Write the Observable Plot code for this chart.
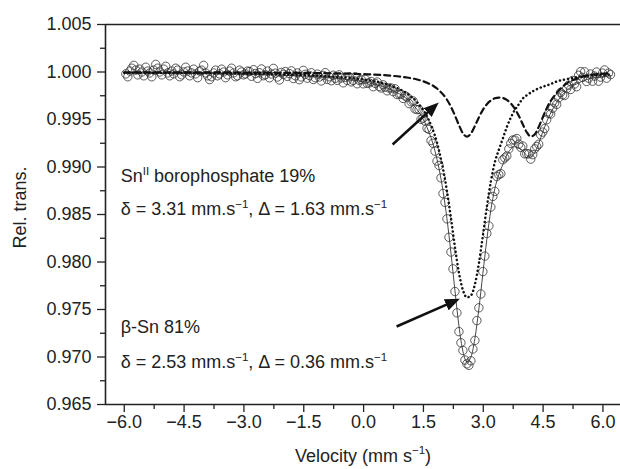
<!DOCTYPE html>
<html><head><meta charset="utf-8">
<script src="https://cdn.jsdelivr.net/npm/d3@7"></script>
<script src="https://cdn.jsdelivr.net/npm/@observablehq/plot@0.6"></script>
<style>html,body{margin:0;padding:0;background:#fff;}</style>
</head><body><div id="chart"></div>
<script>
// Measured spectrum (velocity in mm/s, relative transmission)
const velocity = [
-5.96,-5.91,-5.86,-5.81,-5.76,-5.71,-5.66,-5.61,-5.56,-5.51,
-5.46,-5.41,-5.36,-5.31,-5.26,-5.21,-5.16,-5.11,-5.06,-5.01,
-4.96,-4.91,-4.86,-4.81,-4.76,-4.71,-4.66,-4.61,-4.56,-4.51,
-4.46,-4.41,-4.36,-4.31,-4.26,-4.21,-4.16,-4.11,-4.06,-4.01,
-3.96,-3.91,-3.86,-3.81,-3.76,-3.71,-3.66,-3.61,-3.56,-3.51,
-3.46,-3.41,-3.36,-3.31,-3.26,-3.21,-3.16,-3.11,-3.06,-3.01,
-2.96,-2.91,-2.86,-2.81,-2.76,-2.71,-2.66,-2.61,-2.56,-2.51,
-2.46,-2.41,-2.36,-2.31,-2.26,-2.21,-2.16,-2.11,-2.06,-2.01,
-1.96,-1.91,-1.86,-1.81,-1.76,-1.71,-1.66,-1.61,-1.56,-1.51,
-1.46,-1.41,-1.36,-1.31,-1.26,-1.21,-1.16,-1.11,-1.06,-1.01,
-0.96,-0.91,-0.86,-0.81,-0.76,-0.71,-0.66,-0.61,-0.56,-0.51,
-0.46,-0.41,-0.36,-0.31,-0.26,-0.21,-0.16,-0.11,-0.06,-0.01,
0.04,0.09,0.14,0.19,0.24,0.29,0.34,0.39,0.44,0.49,
0.54,0.59,0.64,0.69,0.74,0.79,0.84,0.89,0.94,0.99,
1.04,1.09,1.14,1.19,1.24,1.29,1.34,1.39,1.44,1.49,
1.54,1.59,1.64,1.69,1.74,1.79,1.84,1.89,1.94,1.99,
2.04,2.09,2.14,2.19,2.24,2.29,2.34,2.39,2.44,2.49,
2.54,2.59,2.64,2.69,2.74,2.79,2.84,2.89,2.94,2.99,
3.04,3.09,3.14,3.19,3.24,3.29,3.34,3.39,3.44,3.49,
3.54,3.59,3.64,3.69,3.74,3.79,3.84,3.89,3.94,3.99,
4.04,4.09,4.14,4.19,4.24,4.29,4.34,4.39,4.44,4.49,
4.54,4.59,4.64,4.69,4.74,4.79,4.84,4.89,4.94,4.99,
5.04,5.09,5.14,5.19,5.24,5.29,5.34,5.39,5.44,5.49,
5.54,5.59,5.64,5.69,5.74,5.79,5.84,5.89,5.94,5.99,
6.04,6.09,6.14,6.19];
const transmission = [
0.9998,0.9995,1.0001,1.0004,1.0007,1.0002,0.9997,1.0003,1.0000,0.9996,
1.0005,1.0001,0.9999,0.9995,1.0002,1.0008,1.0004,1.0000,0.9997,1.0003,
1.0006,0.9999,0.9996,1.0001,0.9998,1.0004,1.0002,0.9995,0.9997,1.0000,
1.0005,1.0001,0.9996,0.9999,1.0003,0.9998,0.9994,1.0001,1.0002,1.0007,
0.9999,0.9996,0.9992,0.9995,0.9999,1.0002,0.9996,0.9998,1.0003,1.0000,
0.9994,0.9997,1.0001,1.0004,0.9999,0.9995,0.9996,1.0002,1.0000,0.9997,
0.9998,1.0001,
1.00005,0.99955,1.00024,0.99984,0.99933,0.99992,1.00032,0.99961,0.99971,1.00010,
0.99939,0.99979,1.00038,0.99988,0.99947,0.99916,0.99996,0.99975,1.00005,0.99954,
0.99983,1.00012,0.99931,0.99960,0.99990,0.99919,0.99948,1.00017,0.99976,0.99935,
0.99964,0.99992,0.99921,0.99940,0.99978,0.99947,0.99906,0.99964,0.99993,0.99922,
0.99950,0.99908,0.99966,0.99934,0.99912,0.99970,0.99938,0.99886,0.99944,0.99912,
0.99949,0.99896,0.99912,0.99949,0.99876,0.99913,0.99920,0.99876,0.99923,0.99880,
0.99885,0.99900,0.99845,0.99880,0.99895,0.99848,0.99832,0.99865,0.99839,0.99802,
0.99832,0.99832,0.99793,0.99823,0.99763,0.99769,0.99766,0.99722,0.99749,
0.99735,0.99667,0.99687,0.99695,0.99611,0.99604,0.99605,0.99502,0.99515,0.99483,
0.99408,0.99396,0.99278,0.99250,0.99167,0.99062,0.99016,0.98885,0.98721,0.98628,
0.98454,0.98260,0.98105,0.97928,0.97689,0.97465,0.97267,0.97150,0.97069,0.96968,
0.96928,0.96912,0.96960,0.97084,0.97175,0.97383,0.97518,0.97663,0.97899,0.98062,
0.98300,0.98380,0.98578,0.98690,0.98743,0.98900,0.98920,0.98930,0.99076,0.99096,
0.99116,
0.99190,0.99249,0.99284,0.99284,0.99300,0.99240,0.99207,0.99221,0.99138,0.99141,
0.99138,0.99083,0.99130,0.99191,0.99216,0.99239,0.99338,0.99367,0.99404,0.99497,
0.99564,0.99558,0.99618,0.99675,0.99659,0.99728,0.99785,0.99760,0.99753,0.99825,
0.99861,0.99816,0.99911,0.99874,0.99845,0.99965,1.00004,0.99943,1.00002,0.99900,
0.99935,0.99979,0.99903,0.99957,1.00000,0.99903,0.99946,0.99989,1.00022,0.99935,
0.99989,0.99972];

// Total fit (thin solid line)
const fitVelocity = [-6.0,-4.91,-3.91,-2.91,-1.91,-1.41,-0.91,-0.41,0.09,0.34,0.59,0.84,
1.09,1.19,1.29,1.39,1.49,1.59,1.69,1.79,1.89,1.99,
2.09,2.19,2.29,2.39,2.49,2.59,2.69,2.79,2.89,2.99,
3.09,3.19,3.29,3.39,3.49,3.59,3.69,3.79,3.89,3.99,
4.09,4.19,4.29,4.39,4.49,4.59,4.69,
4.84,5.09,5.34,5.59,6.09,6.2];
const fitValue = [0.99989,0.99987,0.99983,0.99976,0.99964,0.99955,0.99942,0.99922,0.99890,0.99865,0.99832,0.99783,
0.99715,0.99677,0.99631,0.99575,0.99505,0.99418,0.99308,0.99167,0.98986,0.98751,
0.98454,0.98095,0.97699,0.97327,0.97059,0.96948,0.96999,0.97195,0.97508,0.97879,
0.98240,0.98548,0.98773,0.98920,0.99026,0.99126,0.99189,0.99214,0.99200,0.99171,
0.99121,0.99103,0.99151,0.99249,0.99367,0.99477,0.99568,
0.99679,0.99805,0.99875,0.99920,0.99955,0.99963];

// Sn(II) borophosphate doublet (dashed)
const snIIVelocity = [-6.0,-3.91,-1.91,-0.91,0.09,0.59,1.09,1.34,1.59,1.84,
2.09,2.19,2.29,2.39,2.49,2.59,2.69,2.79,2.89,2.99,
3.09,3.19,3.29,3.39,3.49,3.59,3.69,3.79,3.89,3.99,
4.09,4.19,4.29,4.39,4.49,4.59,4.69,
4.84,5.09,5.34,5.59,6.09,6.2];
const snIIValue = [0.99997,0.99996,0.99991,0.99987,0.99976,0.99964,0.99942,0.99921,0.99887,0.99826,
0.99708,0.99634,0.99542,0.99441,0.99355,0.99320,0.99352,0.99432,0.99522,0.99601,
0.99660,0.99700,0.99723,0.99731,0.99726,0.99706,0.99669,0.99614,0.99540,0.99450,
0.99366,0.99321,0.99343,0.99422,0.99522,0.99617,0.99695,
0.99779,0.99880,0.99930,0.99960,0.99985,0.99988];

// beta-Sn doublet (dotted)
const betaSnVelocity = [-6.0,-4.91,-3.91,-2.91,-1.91,-1.41,-0.91,-0.41,0.09,0.59,
1.09,1.34,1.59,1.84,2.09,2.19,2.29,2.39,2.49,2.59,
2.69,2.79,2.89,2.99,3.09,3.19,3.29,3.39,3.49,3.59,
3.69,3.79,3.89,3.99,4.09,4.29,4.49,4.69,4.84,5.09,
5.34,5.59,6.09,6.2];
const betaSnValue = [0.99992,0.99990,0.99987,0.99982,0.99973,0.99966,0.99955,0.99940,0.99914,0.99868,
0.99773,0.99683,0.99531,0.99256,0.98746,0.98461,0.98157,0.97886,0.97704,0.97628,
0.97647,0.97763,0.97986,0.98278,0.98580,0.98848,0.99050,0.99180,0.99300,0.99420,
0.99520,0.99600,0.99660,0.99721,0.99755,0.99808,0.99845,0.99873,0.99900,0.99925,
0.99945,0.99960,0.99970,0.99975];

// Axes
const xDomain = [-6.47, 6.44];
const yDomain = [0.965, 1.005];
const xTicks = [-6, -4.5, -3, -1.5, 0, 1.5, 3, 4.5, 6];
const xMinorTicks = [-5.25, -3.75, -2.25, -0.75, 0.75, 2.25, 3.75, 5.25];
const yTicks = [0.965, 0.970, 0.975, 0.980, 0.985, 0.990, 0.995, 1.000, 1.005];
const yMinorTicks = [0.9675, 0.9725, 0.9775, 0.9825, 0.9875, 0.9925, 0.9975, 1.0025];
const xLabel = "Velocity (mm s^{−1})";
const yLabel = "Rel. trans.";

// Annotations (data coordinates)
const noteText = ["Sn^{II} borophosphate 19%", "δ = 3.31 mm.s^{−1}, Δ = 1.63 mm.s^{−1}", "β-Sn 81%", "δ = 2.53 mm.s^{−1}, Δ = 0.36 mm.s^{−1}"];
const noteX = [-6.09, -6.09, -6.09, -6.09];
const noteY = [0.98900, 0.98555, 0.97315, 0.96945];
const arrowX1 = [0.727, 0.827];
const arrowY1 = [0.99237, 0.97321];
const arrowX2 = [1.717, 2.208];
const arrowY2 = [0.99616, 0.97574];

const points = velocity.map((v, i) => ({v, t: transmission[i]}));
const fit = fitVelocity.map((v, i) => ({v, t: fitValue[i]}));
const snII = snIIVelocity.map((v, i) => ({v, t: snIIValue[i]}));
const betaSn = betaSnVelocity.map((v, i) => ({v, t: betaSnValue[i]}));
const notes = noteText.map((text, i) => ({text, x: noteX[i], y: noteY[i]}));
const arrows = arrowX1.map((x1, i) => ({x1, y1: arrowY1[i], x2: arrowX2[i], y2: arrowY2[i]}));

const FS = 18;
const ink = "#222";
const chart = Plot.plot({
  width: 620, height: 469,
  marginLeft: 105, marginRight: 0, marginTop: 24, marginBottom: 65,
  style: {fontFamily: "'Liberation Sans', Arial, Helvetica, sans-serif", fontSize: FS + "px", color: ink, background: "#fff"},
  x: {domain: xDomain},
  y: {domain: yDomain},
  marks: [
    Plot.axisX(xMinorTicks, {tickSize: 5, tickFormat: () => "", label: null, stroke: ink, strokeWidth: 1.3}),
    Plot.axisX(xTicks, {tickSize: 8, tickPadding: 3, tickFormat: d3.format(".1f"), stroke: ink, strokeWidth: 1.3,
      label: xLabel, labelAnchor: "center", labelOffset: 57, labelArrow: "none"}),
    Plot.axisY(yMinorTicks, {tickSize: 5, tickFormat: () => "", label: null, stroke: ink, strokeWidth: 1.3}),
    Plot.axisY(yTicks, {tickSize: 8, tickPadding: 6, tickFormat: d3.format(".3f"), stroke: ink, strokeWidth: 1.3,
      label: yLabel, labelAnchor: "center", labelOffset: 92, labelArrow: "none"}),
    Plot.ruleX([xDomain[0]], {stroke: ink, strokeWidth: 1.6}),
    Plot.ruleY(yDomain, {stroke: ink, strokeWidth: 1.6}),
    Plot.dot(points, {x: "v", y: "t", r: 4.2, stroke: "#333", strokeWidth: 0.8, fill: "none"}),
    Plot.line(fit, {x: "v", y: "t", curve: "monotone-x", stroke: "#333", strokeWidth: 0.9}),
    Plot.line(snII, {x: "v", y: "t", curve: "monotone-x", stroke: "#111", strokeWidth: 2.2, strokeDasharray: "6,4"}),
    Plot.line(betaSn, {x: "v", y: "t", curve: "monotone-x", stroke: "#111", strokeWidth: 2.5, strokeDasharray: "0.1,4", strokeLinecap: "round"}),
    Plot.link(arrows, {x1: "x1", y1: "y1", x2: "x2", y2: "y2", stroke: "#111", strokeWidth: 2.5}),
    Plot.text(notes, {x: "x", y: "y", text: "text", textAnchor: "start", fontSize: FS, fill: ink})
  ]
});
document.getElementById("chart").appendChild(chart);

// superscripts written as ^{...}
const NS = "http://www.w3.org/2000/svg";
[...chart.querySelectorAll("text, tspan")]
  .filter(el => el.childElementCount === 0 && el.textContent.includes("^{"))
  .forEach(el => {
    const s = el.textContent;
    el.textContent = "";
    let raised = false;
    s.split(/(\^\{[^}]*\})/).forEach(p => {
      if (!p) return;
      const ts = document.createElementNS(NS, "tspan");
      if (p.startsWith("^{")) {
        ts.textContent = p.slice(2, -1);
        ts.setAttribute("font-size", FS * 0.64);
        ts.setAttribute("dy", -FS * 0.4);
        raised = true;
      } else {
        ts.textContent = p;
        if (raised) { ts.setAttribute("dy", FS * 0.4); raised = false; }
      }
      el.appendChild(ts);
    });
  });

// y-axis title sits slightly above the frame centre in the reference
chart.querySelectorAll('g[aria-label="y-axis label"]').forEach(g => {
  g.setAttribute("transform", ((g.getAttribute("transform") || "") + " translate(0,-7)").trim());
});

// filled arrowheads
const defs = document.createElementNS(NS, "defs");
defs.innerHTML = '<marker id="ahead" viewBox="0 0 10 8" refX="4" refY="4" markerWidth="6" markerHeight="4.8" orient="auto" markerUnits="strokeWidth"><path d="M0,0L10,4L0,8Z" fill="#111"/></marker>';
chart.insertBefore(defs, chart.firstChild);
chart.querySelectorAll('g[aria-label="link"] path').forEach(p => p.setAttribute("marker-end", "url(#ahead)"));
</script>
</body></html>
